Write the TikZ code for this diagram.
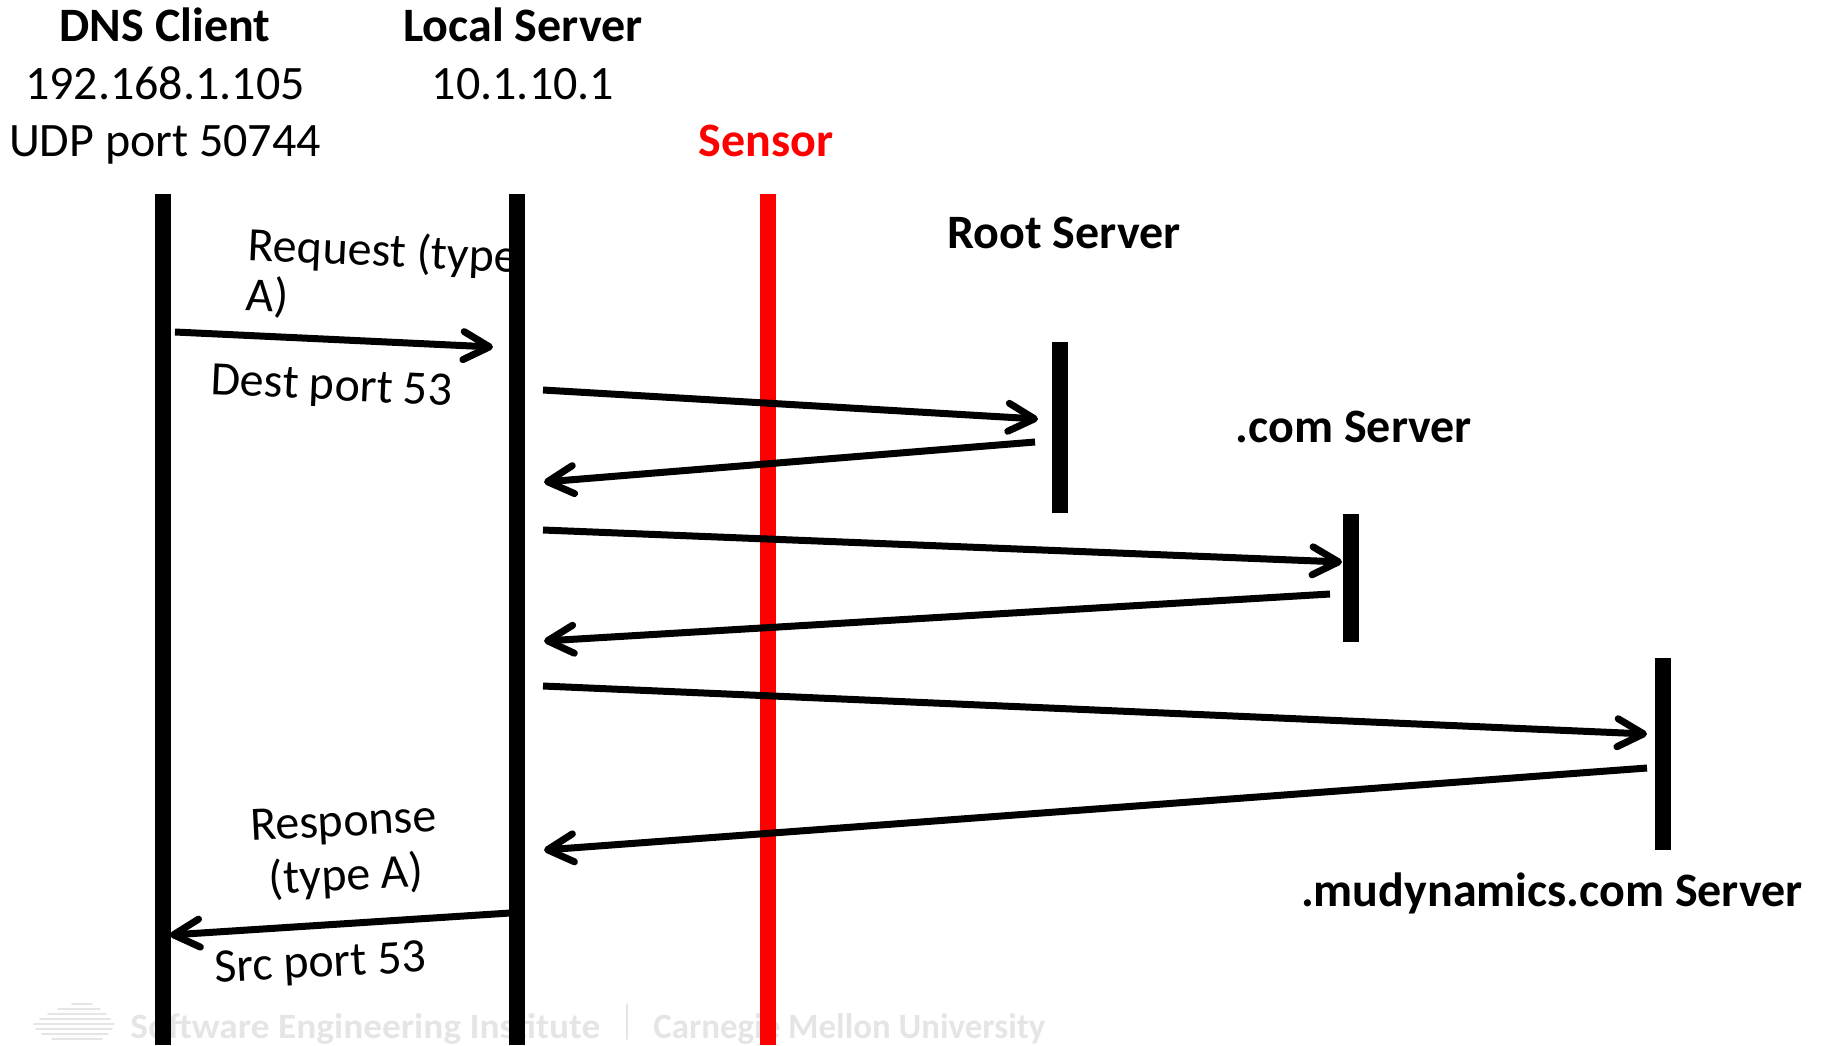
\documentclass[tikz,border=0pt]{standalone}
\usepackage{fontspec}
\usepackage{graphicx}
\setmainfont{Carlito}
\usetikzlibrary{arrows.meta}
\begin{document}
\begin{tikzpicture}[x=0.5pt,y=-0.5pt,
  txt/.style={font=\fontsize{24}{29}\selectfont, inner sep=0pt, anchor=base},
  hdr/.style={font=\fontsize{24}{29}\selectfont\bfseries, inner sep=0pt, anchor=base},
  life/.style={line width=8pt},
  msg/.style={line width=3.5pt, -{Straight Barb[round,length=13pt,width=14pt]}},
  wm/.style={color=black!10, inner sep=0pt, anchor=base west},
  wmline/.style={draw=black!10, line width=0.8pt, line cap=round}]
\useasboundingbox (0,0) rectangle (1823,1045);

% watermark
\node[wm] (wm1) at (130,1038) {\resizebox{235pt}{12.5pt}{\bfseries Software Engineering Institute}};
\node[wm] (wm2) at (653,1038) {\resizebox{196pt}{12.5pt}{\bfseries Carnegie Mellon University}};
\coordinate (wsT) at (627,1004); \coordinate (wsB) at (627,1039);
\draw[wmline] (wsT) -- (wsB);
\foreach \y/\a/\b in {1004/72/92, 1009/58/100, 1014/48/106, 1019/40/110, 1024/34/114, 1029/36/112, 1034/42/108, 1039/52/102}{
  \coordinate (la\y) at (\a,\y); \coordinate (lb\y) at (\b,\y);
  \draw[wmline] (la\y) -- (lb\y);
}

% headers
\node[hdr] (dnsc) at (165,41) {DNS Client};
\node[txt] (dnsip) at (165,99) {192.168.1.105};
\node[txt] (dnsport) at (165,156) {UDP port 50744};
\node[hdr] (locs) at (523,41) {Local Server};
\node[txt] (locip) at (523,99) {10.1.10.1};
\node[hdr, text=red] (sens) at (766,156) {Sensor};
\node[hdr] (root) at (1064,248) {Root Server};
\node[hdr] (com) at (1354,442) {.com Server};
\node[hdr] (mud) at (1552,906) {.mudynamics.com Server};

% message labels
\node[font=\fontsize{24}{25}\selectfont, inner sep=0pt, align=left, anchor=base west, rotate=-2.7] (req) at (245,310) {Request (type\\A)};
\node[txt, rotate=-2.7] (dest) at (331,400) {Dest port 53};
\node[font=\fontsize{24}{27}\selectfont, inner sep=0pt, align=center, anchor=base, rotate=3] (resp) at (347,890) {Response\\(type A)};
\node[txt, rotate=3] (srcp) at (321,977) {Src port 53};

% lifelines
\coordinate (cT) at (163,194); \coordinate (cB) at (163,1045);
\coordinate (lT) at (517,194); \coordinate (lB) at (517,1045);
\coordinate (sT) at (768,194); \coordinate (sB) at (768,1045);
\coordinate (rT) at (1060,342); \coordinate (rB) at (1060,513);
\coordinate (mT) at (1351,514); \coordinate (mB) at (1351,642);
\coordinate (dT) at (1663,658); \coordinate (dB) at (1663,850);
\draw[life] (cT) -- (cB);
\draw[life] (lT) -- (lB);
\draw[life, draw=red] (sT) -- (sB);
\draw[life] (rT) -- (rB);
\draw[life] (mT) -- (mB);
\draw[life] (dT) -- (dB);

% messages
\coordinate (a1s) at (175,332);  \coordinate (a1e) at (493,347);
\coordinate (a2s) at (543,390);  \coordinate (a2e) at (1038,419);
\coordinate (a3s) at (1035,442); \coordinate (a3e) at (544,482);
\coordinate (a4s) at (543,530);  \coordinate (a4e) at (1342,562);
\coordinate (a5s) at (1330,594); \coordinate (a5e) at (544,641);
\coordinate (a6s) at (543,686);  \coordinate (a6e) at (1647,734);
\coordinate (a7s) at (1647,768); \coordinate (a7e) at (544,850);
\coordinate (a8s) at (510,913);  \coordinate (a8e) at (170,935);
\draw[msg] (a1s) -- (a1e);
\draw[msg] (a2s) -- (a2e);
\draw[msg] (a3s) -- (a3e);
\draw[msg] (a4s) -- (a4e);
\draw[msg] (a5s) -- (a5e);
\draw[msg] (a6s) -- (a6e);
\draw[msg] (a7s) -- (a7e);
\draw[msg] (a8s) -- (a8e);
\end{tikzpicture}
\end{document}
